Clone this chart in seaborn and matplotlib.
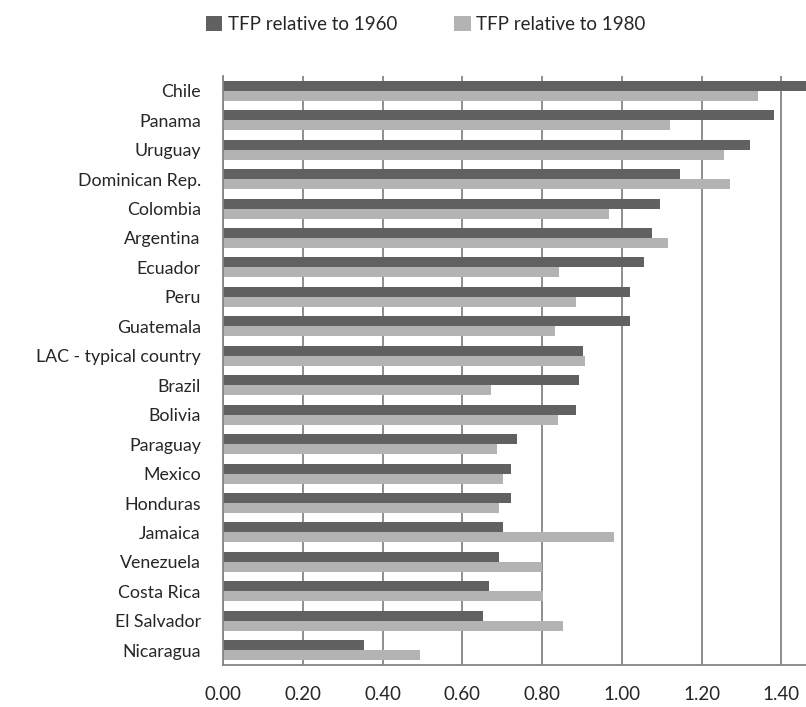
import matplotlib
matplotlib.use("Agg")
import matplotlib.pyplot as plt
import numpy as np
import pandas as pd
import seaborn as sns

countries = ["Chile", "Panama", "Uruguay", "Dominican Rep.", "Colombia", "Argentina",
             "Ecuador", "Peru", "Guatemala", "LAC - typical country", "Brazil", "Bolivia",
             "Paraguay", "Mexico", "Honduras", "Jamaica", "Venezuela", "Costa Rica",
             "El Salvador", "Nicaragua"]
tfp_1960 = [1.461, 1.383, 1.322, 1.146, 1.095, 1.076, 1.055, 1.020, 1.020, 0.903,
            0.894, 0.884, 0.737, 0.723, 0.723, 0.702, 0.692, 0.667, 0.652, 0.354]
tfp_1980 = [1.342, 1.120, 1.256, 1.271, 0.969, 1.115, 0.843, 0.884, 0.833, 0.909,
            0.672, 0.839, 0.687, 0.702, 0.692, 0.980, 0.799, 0.803, 0.853, 0.495]
series = ["TFP relative to 1960", "TFP relative to 1980"]
x_ticks = [0.0, 0.2, 0.4, 0.6, 0.8, 1.0, 1.2, 1.4]

df = pd.DataFrame({
    "country": countries * 2,
    "value": tfp_1960 + tfp_1980,
    "series": [series[0]] * len(countries) + [series[1]] * len(countries),
})

sns.set_style("white")
plt.rcParams["font.family"] = ["Lato", "DejaVu Sans"]

W, H = 806, 707
fig = plt.figure(figsize=(W / 100, H / 100), dpi=100)
ax = fig.add_axes([223 / W, 1 - 665 / H, (806 - 223) / W, (665 - 76) / H])

sns.barplot(data=df, y="country", x="value", hue="series", hue_order=series,
            order=countries, orient="h", palette=["#616161", "#b3b3b3"],
            width=0.68, gap=0, ax=ax, saturation=1, edgecolor="none")

ax.set_xlim(0, 1.462)
ax.set_ylim(len(countries) - 0.5, -0.5)
ax.set_xticks(x_ticks)
ax.set_xticklabels([f"{v:.2f}" for v in x_ticks], fontsize=13.5)
ax.tick_params(axis="x", length=5, width=1.3, color="#868686", pad=10)
ax.tick_params(axis="y", which="major", length=0, pad=16, labelsize=12.8)
ax.set_yticks(np.arange(-0.5, len(countries), 1), minor=True)
ax.tick_params(axis="y", which="minor", length=6, width=1.3, color="#868686")
ax.set_xlabel("")
ax.set_ylabel("")

ax.grid(axis="x", color="#868686", linewidth=1.3)
ax.set_axisbelow(True)
for side in ["top", "right"]:
    ax.spines[side].set_visible(False)
for side in ["left", "bottom"]:
    ax.spines[side].set_color("#868686")
    ax.spines[side].set_linewidth(1.3)

handles, labels = ax.get_legend_handles_labels()
ax.legend(handles, labels, loc="upper left", bbox_to_anchor=(198 / W, 1 - 8 / H),
          bbox_transform=fig.transFigure, ncol=2, frameon=False, fontsize=13.5,
          handlelength=0.9, handleheight=0.9, handletextpad=0.3, columnspacing=3.0,
          borderaxespad=0, borderpad=0.4)

fig.savefig("out.png", dpi=100)
